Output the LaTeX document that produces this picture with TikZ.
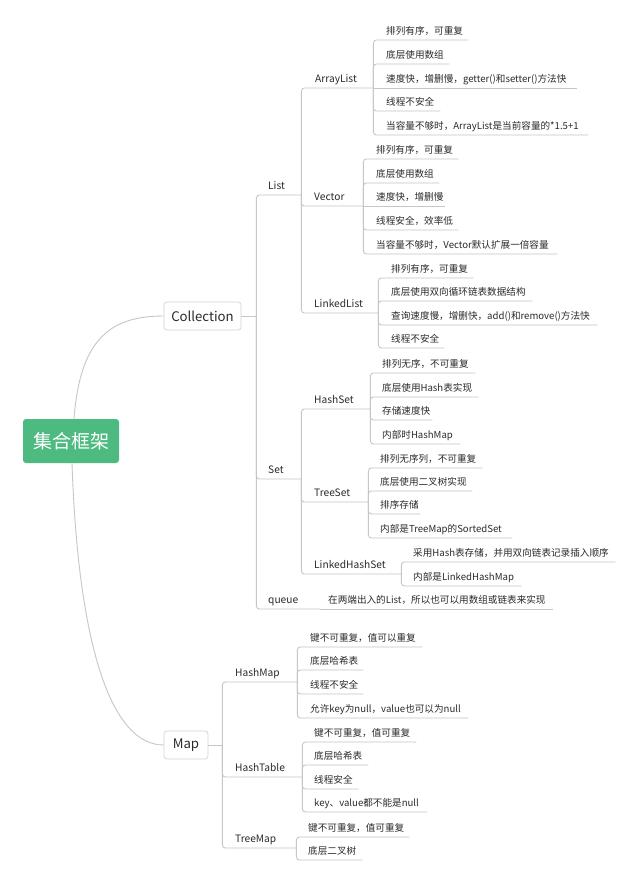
\documentclass[tikz,border=0pt]{standalone}
\usepackage{fontspec}
\setmainfont{Noto Sans CJK SC}
\definecolor{lnc}{HTML}{C6C6C6}
\definecolor{txc}{HTML}{2A2A2A}
\definecolor{rootg}{HTML}{4DBB80}
\definecolor{boxb}{HTML}{D4D4D4}
\tikzset{
  conn/.style={draw=lnc, line width=0.9pt, rounded corners=3pt},
  curvecon/.style={draw=lnc, line width=0.9pt},
  leaf/.style={anchor=south west, inner sep=0pt, text depth=5pt, align=left,
    font=\fontsize{9.6}{11}\selectfont, text=txc},
  lab/.style={leaf, font=\fontsize{10.2}{12}\selectfont},
  topbox/.style={draw=boxb, fill=white, rounded corners=3pt, line width=0.8pt,
    minimum height=28pt, inner xsep=0pt, font=\fontsize{13.2}{15}\selectfont, text=txc},
  rootbox/.style={fill=rootg, rounded corners=3pt, minimum width=96pt,
    minimum height=44pt, inner sep=0pt, font=\fontsize{19}{22}\selectfont, text=white}
}
% #1 style, #2 name, #3 text x, #4 line end x, #5 line y, #6 text
\newcommand\mmitem[6]{%
  \pgfmathsetmacro\mmw{#4-#3}%
  \node[#1, text width=\mmw pt] (#2) at (#3,#5) {\mbox{#6}};}
\newcommand\mmconn[2]{\draw[conn] (#1.south east) -- (#1.south east |- #2.south west) -- (#2.south east);}
\newcommand\mmstraight[2]{\draw[conn] (#1.south east) -- (#2.south east);}
\begin{document}
\begin{tikzpicture}[x=1pt, y=-1pt]
\useasboundingbox[fill=white] (0,0) rectangle (640,888);

% root and main boxes
\node[rootbox] (root) at (71,441) {集合框架};
\node[topbox, minimum width=77pt] (coll) at (202.5,316) {Collection};
\node[topbox, minimum width=44pt] (map) at (186,745) {Map};

\draw[curvecon] ([xshift=3pt]root.north) .. controls +(6,-79) and +(-54,0) .. (coll.west);
\draw[curvecon] ([xshift=1pt]root.south) .. controls +(6,177) and +(-54,0) .. (map.west);

\coordinate (cj) at ([xshift=15pt]coll.east);
\coordinate (mj) at ([xshift=14pt]map.east);
\draw[curvecon] (coll.east) -- (cj);
\draw[curvecon] (map.east) -- (mj);

% ---------- Collection branch ----------
\mmitem{lab}{list}{268}{301}{195}{List}
\mmitem{lab}{set}{268}{301}{479}{Set}
\mmitem{lab}{queue}{268}{320}{609}{queue}
\draw[conn] (cj) -- (cj |- list.south west) -- (list.south east);
\draw[conn] (cj) -- (cj |- set.south west) -- (set.south east);
\draw[conn] (cj) -- (cj |- queue.south west) -- (queue.south east);

% List
\mmitem{lab}{al}{315}{373}{88}{ArrayList}
\mmitem{lab}{vec}{314}{363}{206}{Vector}
\mmitem{lab}{ll}{314}{378}{313}{LinkedList}
\mmconn{list}{al}
\mmconn{list}{vec}
\mmconn{list}{ll}

\mmitem{leaf}{al1}{386}{468}{40}{排列有序，可重复}
\mmitem{leaf}{al2}{386}{449}{64}{底层使用数组}
\mmitem{leaf}{al3}{386}{577}{88}{速度快，增删慢，getter()和setter()方法快}
\mmitem{leaf}{al4}{386}{440}{111}{线程不安全}
\mmitem{leaf}{al5}{386}{588}{135}{当容量不够时，ArrayList是当前容量的*1.5+1}
\mmconn{al}{al1}
\mmconn{al}{al2}
\mmstraight{al}{al3}
\mmconn{al}{al4}
\mmconn{al}{al5}

\mmitem{leaf}{v1}{376}{458}{159}{排列有序，可重复}
\mmitem{leaf}{v2}{376}{439}{183}{底层使用数组}
\mmitem{leaf}{v3}{376}{445}{206}{速度快，增删慢}
\mmitem{leaf}{v4}{376}{458}{230}{线程安全，效率低}
\mmitem{leaf}{v5}{376}{557}{254}{当容量不够时，Vector默认扩展一倍容量}
\mmconn{vec}{v1}
\mmconn{vec}{v2}
\mmstraight{vec}{v3}
\mmconn{vec}{v4}
\mmconn{vec}{v5}

\mmitem{leaf}{ll1}{391}{473}{278}{排列有序，可重复}
\mmitem{leaf}{ll2}{391}{532}{301}{底层使用双向循环链表数据结构}
\mmitem{leaf}{ll3}{391}{597}{325}{查询速度慢，增删快，add()和remove()方法快}
\mmitem{leaf}{ll4}{391}{444}{348}{线程不安全}
\mmconn{ll}{ll1}
\mmconn{ll}{ll2}
\mmconn{ll}{ll3}
\mmconn{ll}{ll4}

% Set
\mmitem{lab}{hs}{314}{370}{409}{HashSet}
\mmitem{lab}{ts}{314}{368}{502}{TreeSet}
\mmitem{lab}{lhs}{314}{401}{574}{LinkedHashSet}
\mmconn{set}{hs}
\mmconn{set}{ts}
\mmconn{set}{lhs}

\mmitem{leaf}{hs1}{382}{475}{373}{排列无序，不可重复}
\mmitem{leaf}{hs2}{382}{478}{397}{底层使用Hash表实现}
\mmitem{leaf}{hs3}{382}{432}{420}{存储速度快}
\mmitem{leaf}{hs4}{382}{460}{444}{内部时HashMap}
\mmconn{hs}{hs1}
\mmconn{hs}{hs2}
\mmconn{hs}{hs3}
\mmconn{hs}{hs4}

\mmitem{leaf}{ts1}{380}{482}{468}{排列无序列，不可重复}
\mmitem{leaf}{ts2}{380}{472}{491}{底层使用二叉树实现}
\mmitem{leaf}{ts3}{380}{420}{514}{排序存储}
\mmitem{leaf}{ts4}{380}{512}{538}{内部是TreeMap的SortedSet}
\mmconn{ts}{ts1}
\mmconn{ts}{ts2}
\mmconn{ts}{ts3}
\mmconn{ts}{ts4}

\mmitem{leaf}{lhs1}{413}{615}{562}{采用Hash表存储，并用双向链表记录插入顺序}
\mmitem{leaf}{lhs2}{413}{521}{586}{内部是LinkedHashMap}
\mmconn{lhs}{lhs1}
\mmconn{lhs}{lhs2}

% queue
\mmitem{leaf}{q1}{328}{553}{609}{在两端出入的List，所以也可以用数组或链表来实现}
\mmstraight{queue}{q1}

% ---------- Map branch ----------
\mmitem{lab}{hm}{235}{297}{682}{HashMap}
\mmitem{lab}{ht}{235}{302}{777}{HashTable}
\mmitem{lab}{tm}{235}{296}{848}{TreeMap}
\draw[conn] (mj) -- (mj |- hm.south west) -- (hm.south east);
\draw[conn] (mj) -- (mj |- ht.south west) -- (ht.south east);
\draw[conn] (mj) -- (mj |- tm.south west) -- (tm.south east);

\mmitem{leaf}{hm1}{310}{422}{647}{键不可重复，值可以重复}
\mmitem{leaf}{hm2}{310}{363}{670}{底层哈希表}
\mmitem{leaf}{hm3}{310}{363}{694}{线程不安全}
\mmitem{leaf}{hm4}{310}{468}{718}{允许key为null，value也可以为null}
\mmconn{hm}{hm1}
\mmconn{hm}{hm2}
\mmconn{hm}{hm3}
\mmconn{hm}{hm4}

\mmitem{leaf}{ht1}{314}{416}{742}{键不可重复，值可重复}
\mmitem{leaf}{ht2}{314}{368}{765}{底层哈希表}
\mmitem{leaf}{ht3}{314}{358}{789}{线程安全}
\mmitem{leaf}{ht4}{314}{427}{812}{key、value都不能是null}
\mmconn{ht}{ht1}
\mmconn{ht}{ht2}
\mmconn{ht}{ht3}
\mmconn{ht}{ht4}

\mmitem{leaf}{tm1}{308}{409}{837}{键不可重复，值可重复}
\mmitem{leaf}{tm2}{308}{362}{860}{底层二叉树}
\mmconn{tm}{tm1}
\mmconn{tm}{tm2}
\end{tikzpicture}
\end{document}
